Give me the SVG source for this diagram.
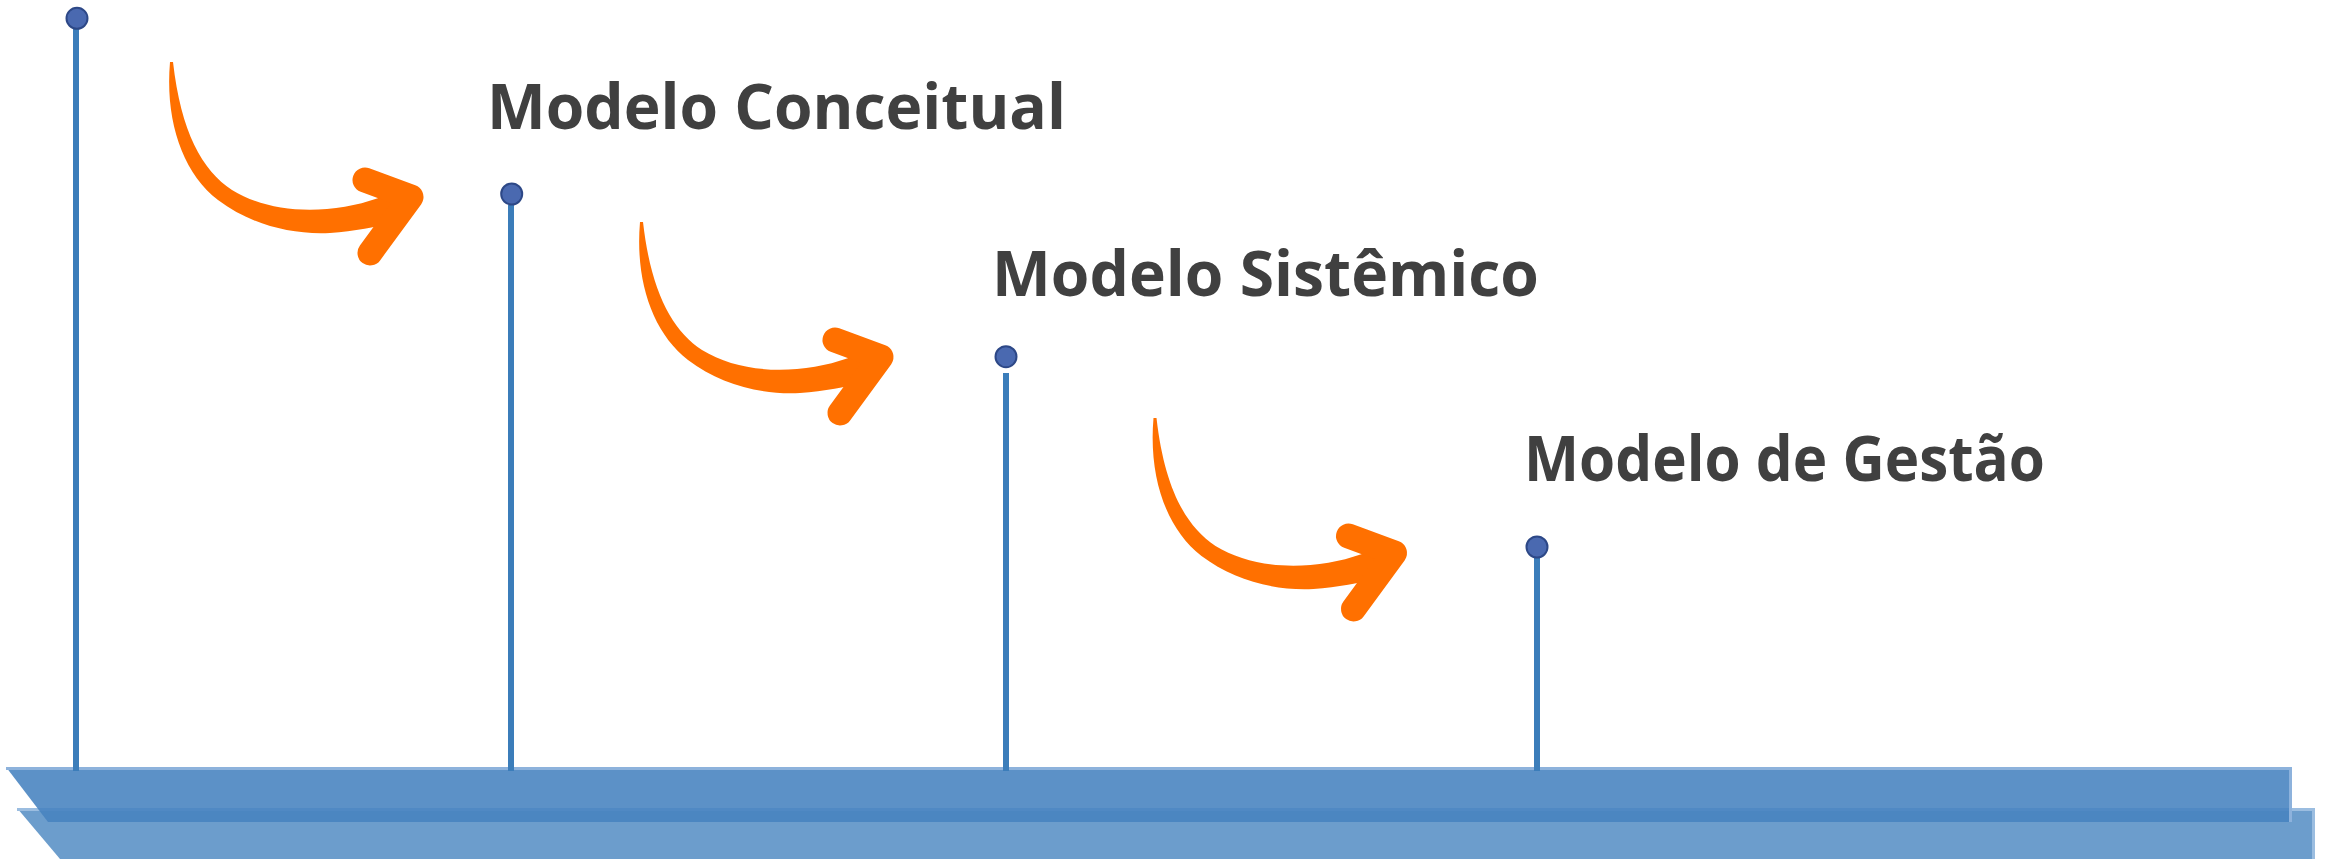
<svg xmlns="http://www.w3.org/2000/svg" xmlns:xlink="http://www.w3.org/1999/xlink" width="2329" height="860" viewBox="0 0 2329 860">
<style>
.stem{stroke:#3B7DBA;stroke-width:6;fill:none}
.dot{fill:#4A69B0;stroke:#2D4887;stroke-width:2}
.lbl{font-family:"Open Sans",Lato,"Liberation Sans",sans-serif;font-weight:700;font-size:63px;fill:#404040}
.body{fill:#FF7000}
.head{fill:none;stroke:#FF7000;stroke-width:25;stroke-linecap:round;stroke-linejoin:round}
</style>
<defs>
<g id="curvedArrow">
<path class="body" d="M170,62 C165,120 182,172 218,200 C250,224 290,235 330,233 C355,231 375,227 397,222 L394,192 C372,201 352,207 327,209 C292,212 258,206 232,190 C202,170 181,132 173,62 Z"/>
<polyline class="head" points="365,180 411,197 370,253"/>
</g>
</defs>
<g id="base">
<polygon points="17,808 2315,808 2315,859 60,859" fill="#6C9DCC"/>
<polyline points="17,809.5 2313.5,809.5 2313.5,859" fill="none" stroke="#9BBDE0" stroke-width="3"/>
<polygon points="6,767 2292,767 2292,822 48,822" fill="#4682BF" fill-opacity="0.884"/>
<polyline points="6,768.5 2290.5,768.5 2290.5,822" fill="none" stroke="#8DB2DC" stroke-width="3"/>
</g>
<g id="connectors">
<use xlink:href="#curvedArrow"/>
<use xlink:href="#curvedArrow" transform="translate(470,160)"/>
<use xlink:href="#curvedArrow" transform="translate(983.5,356)"/>
</g>
<g id="milestone-start">
<line class="stem" x1="76" y1="29" x2="76" y2="771"/>
<circle class="dot" cx="77" cy="18.3" r="10.5"/>
</g>
<g id="node-conceitual">
<line class="stem" x1="511" y1="205" x2="511" y2="771"/>
<circle class="dot" cx="511.7" cy="194" r="10.5"/>
<text class="lbl" x="487" y="129" textLength="579" lengthAdjust="spacingAndGlyphs">Modelo Conceitual</text>
</g>
<g id="node-sistemico">
<line class="stem" x1="1006" y1="373" x2="1006" y2="771"/>
<circle class="dot" cx="1006" cy="356.7" r="10.5"/>
<text class="lbl" x="992" y="296" textLength="547" lengthAdjust="spacingAndGlyphs">Modelo Sistêmico</text>
</g>
<g id="node-gestao">
<line class="stem" x1="1537" y1="557" x2="1537" y2="771"/>
<circle class="dot" cx="1537" cy="547" r="10.5"/>
<text class="lbl" x="1524" y="481" textLength="521" lengthAdjust="spacingAndGlyphs">Modelo de Gestão</text>
</g>
</svg>
